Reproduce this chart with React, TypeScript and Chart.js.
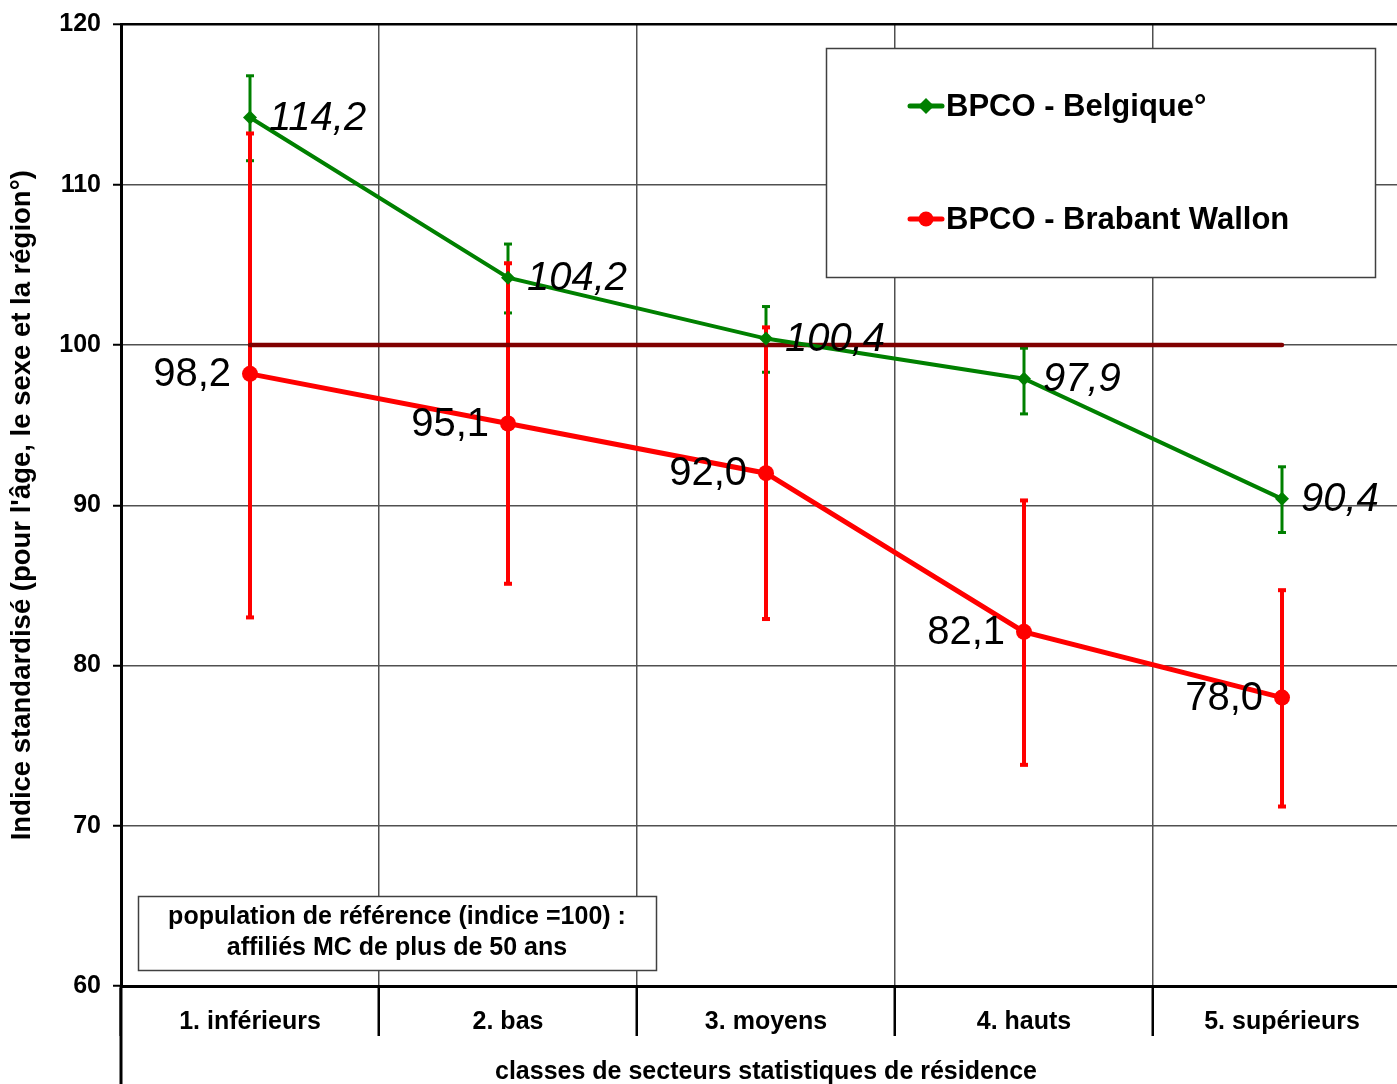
import React, { useEffect, useRef } from 'react';
import { Chart, registerables } from 'chart.js';

Chart.register(...registerables);

// ---------- data ----------
const categories = ['1. inférieurs', '2. bas', '3. moyens', '4. hauts', '5. supérieurs'];
const seriesNames = ['BPCO - Belgique°', 'BPCO - Brabant Wallon'];
const belgique = [114.2, 104.2, 100.4, 97.9, 90.4];
const belgiqueLow = [111.5, 102.0, 98.3, 95.7, 88.3];
const belgiqueHigh = [116.8, 106.3, 102.4, 99.8, 92.4];
const brabant = [98.2, 95.1, 92.0, 82.1, 78.0];
const brabantLow = [83.0, 85.1, 82.9, 73.8, 71.2];
const brabantHigh = [113.2, 105.1, 101.1, 90.3, 84.7];
const referenceLine = [100, 100, 100, 100, 100];
const yMin = 60;
const yMax = 120;
const yStep = 10;
const yTitle = "Indice standardisé (pour l'âge, le sexe et la région°)";
const xTitle = 'classes de secteurs statistiques de résidence';
const noteLines = ['population de référence (indice =100) :', 'affiliés MC de plus de 50 ans'];

// ---------- styles ----------
const FONT = '"Liberation Sans", Arial, Helvetica, sans-serif';
const GREEN = '#008000';
const RED = '#ff0000';
const MAROON = '#800000';
const GRID = '#505050';

const fmt = (v: number) => v.toFixed(1).replace('.', ',');

const customPlugin = {
  id: 'customDecor',
  beforeDatasetsDraw(chart: any) {
    const ctx = chart.ctx;
    const xs = chart.scales.x;
    const ys = chart.scales.y;
    const drawErr = (lo: number[], hi: number[], color: string, w: number, capH: number) => {
      ctx.save();
      ctx.strokeStyle = color;
      ctx.fillStyle = color;
      ctx.lineWidth = w;
      lo.forEach((l, i) => {
        const px = Math.round(xs.getPixelForValue(i));
        const y1 = ys.getPixelForValue(hi[i]);
        const y2 = ys.getPixelForValue(l);
        ctx.beginPath();
        ctx.moveTo(px, y1);
        ctx.lineTo(px, y2);
        ctx.stroke();
        ctx.fillRect(px - 4, y1 - capH / 2, 8, capH);
        ctx.fillRect(px - 4, y2 - capH / 2, 8, capH);
      });
      ctx.restore();
    };
    drawErr(belgiqueLow, belgiqueHigh, GREEN, 3, 3);
    drawErr(brabantLow, brabantHigh, RED, 4, 4);
  },
  afterDatasetsDraw(chart: any) {
    const ctx = chart.ctx;
    const area = chart.chartArea;
    ctx.save();

    // y axis line continues below the plot
    ctx.strokeStyle = '#000';
    ctx.lineWidth = 3;
    ctx.beginPath();
    ctx.moveTo(area.left, area.bottom);
    ctx.lineTo(area.left, chart.height);
    ctx.stroke();

    // data labels
    const g = chart.getDatasetMeta(0).data;
    const r = chart.getDatasetMeta(1).data;
    ctx.fillStyle = '#000';
    ctx.textBaseline = 'middle';
    ctx.font = `italic 40px ${FONT}`;
    ctx.textAlign = 'left';
    g.forEach((pt: any, i: number) => {
      ctx.fillText(fmt(belgique[i]), pt.x + 19, pt.y + 1);
    });
    ctx.font = `40px ${FONT}`;
    ctx.textAlign = 'right';
    r.forEach((pt: any, i: number) => {
      ctx.fillText(fmt(brabant[i]), pt.x - 19, pt.y + 1);
    });

    // note box
    ctx.fillStyle = '#fff';
    ctx.fillRect(138, 896, 518, 74);
    ctx.strokeStyle = '#404040';
    ctx.lineWidth = 1.5;
    ctx.strokeRect(138.5, 896.5, 518, 74);
    ctx.fillStyle = '#000';
    ctx.font = `bold 25px ${FONT}`;
    ctx.textAlign = 'center';
    ctx.fillText(noteLines[0], 397, 917);
    ctx.fillText(noteLines[1], 397, 948);

    // legend box
    ctx.fillStyle = '#fff';
    ctx.fillRect(826, 48, 549, 229);
    ctx.strokeStyle = '#404040';
    ctx.lineWidth = 1.5;
    ctx.strokeRect(826.5, 48.5, 549, 229);
    const entries = [
      { name: seriesNames[0], color: GREEN, y: 106, style: 'diamond' },
      { name: seriesNames[1], color: RED, y: 219, style: 'circle' },
    ];
    entries.forEach((e) => {
      ctx.strokeStyle = e.color;
      ctx.fillStyle = e.color;
      ctx.lineWidth = 5;
      ctx.lineCap = 'round';
      ctx.beginPath();
      ctx.moveTo(910, e.y);
      ctx.lineTo(942, e.y);
      ctx.stroke();
      ctx.beginPath();
      if (e.style === 'circle') {
        ctx.arc(926, e.y, 7.5, 0, Math.PI * 2);
      } else {
        ctx.moveTo(926, e.y - 8);
        ctx.lineTo(934, e.y);
        ctx.lineTo(926, e.y + 8);
        ctx.lineTo(918, e.y);
        ctx.closePath();
      }
      ctx.fill();
      ctx.fillStyle = '#000';
      ctx.font = `bold 31px ${FONT}`;
      ctx.textAlign = 'left';
      ctx.textBaseline = 'middle';
      ctx.fillText(e.name, 946, e.y + 1);
    });
    ctx.restore();
  },
};

export default function App() {
  const ref = useRef<HTMLCanvasElement | null>(null);
  useEffect(() => {
    if (!ref.current) return;
    const tickFont = { family: FONT, size: 25, weight: 'bold' as const };
    const chart = new Chart(ref.current, {
      type: 'line',
      data: {
        labels: categories,
        datasets: [
          {
            label: seriesNames[0],
            data: belgique,
            borderColor: GREEN,
            backgroundColor: GREEN,
            borderWidth: 4,
            pointStyle: 'rectRot',
            pointRadius: 7,
            pointBorderWidth: 0,
            tension: 0,
            fill: false,
          },
          {
            label: seriesNames[1],
            data: brabant,
            borderColor: RED,
            backgroundColor: RED,
            borderWidth: 5,
            pointStyle: 'circle',
            pointRadius: 8,
            pointBorderWidth: 0,
            tension: 0,
            fill: false,
          },
          {
            label: 'référence',
            data: referenceLine,
            borderColor: MAROON,
            backgroundColor: MAROON,
            borderWidth: 4.5,
            borderCapStyle: 'round',
            pointRadius: 0,
            tension: 0,
            fill: false,
          },
        ],
      },
      options: {
        animation: false,
        responsive: false,
        devicePixelRatio: 1,
        events: [],
        layout: { padding: { top: 24, left: 0, right: 0, bottom: 0 } },
        plugins: { legend: { display: false }, tooltip: { enabled: false } },
        scales: {
          x: {
            type: 'category',
            offset: true,
            grid: {
              offset: true,
              color: GRID,
              lineWidth: 1.5,
              drawTicks: true,
              tickLength: 50,
              tickColor: '#000',
              tickWidth: 2.5,
            },
            border: { color: '#000', width: 3 },
            ticks: {
              font: tickFont,
              color: '#000',
              padding: -29,
              maxRotation: 0,
              autoSkip: false,
            },
            title: {
              display: true,
              text: xTitle,
              font: tickFont,
              color: '#000',
              padding: { top: 0, bottom: -3 },
            },
            afterFit: (s: any) => {
              s.height = 98;
            },
          },
          y: {
            min: yMin,
            max: yMax,
            ticks: {
              stepSize: yStep,
              font: { family: FONT, size: 25, weight: 'bold' as const, lineHeight: 1 },
              color: '#000',
              padding: 12,
            },
            grid: {
              color: (c: any) => (c.tick && c.tick.value === yMax ? '#000' : GRID),
              lineWidth: (c: any) => (c.tick && c.tick.value === yMax ? 2.5 : 1.5),
              tickLength: 8,
              tickColor: '#000',
              tickWidth: 2,
            },
            border: { color: '#000', width: 3 },
            title: {
              display: true,
              text: yTitle,
              font: { family: FONT, size: 27.5, weight: 'bold' as const },
              color: '#000',
              padding: { top: 6, bottom: 0 },
            },
            afterFit: (s: any) => {
              s.width = 121;
            },
          },
        },
      },
      plugins: [customPlugin],
    } as any);
    return () => chart.destroy();
  }, []);

  return (
    <div
      style={{
        position: 'fixed',
        left: 0,
        top: 0,
        width: 1397,
        height: 1084,
        overflow: 'hidden',
        background: '#fff',
      }}
    >
      <canvas ref={ref} width={1419} height={1084} style={{ display: 'block' }} />
    </div>
  );
}
